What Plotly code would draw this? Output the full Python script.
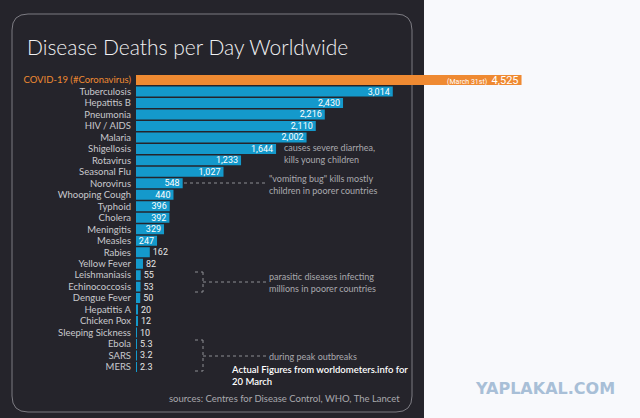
import plotly.graph_objects as go

W, H = 640, 418

diseases = [
    "COVID-19 (#Coronavirus)", "Tuberculosis", "Hepatitis B", "Pneumonia", "HIV / AIDS",
    "Malaria", "Shigellosis", "Rotavirus", "Seasonal Flu", "Norovirus", "Whooping Cough",
    "Typhoid", "Cholera", "Meningitis", "Measles", "Rabies", "Yellow Fever", "Leishmaniasis",
    "Echinococcosis", "Dengue Fever", "Hepatitis A", "Chicken Pox", "Sleeping Sickness",
    "Ebola", "SARS", "MERS",
]
deaths = [4525, 3014, 2430, 2216, 2110, 2002, 1644, 1233, 1027, 548, 440, 396, 392, 329,
          247, 162, 82, 55, 53, 50, 20, 12, 10, 5.3, 3.2, 2.3]

title = "Disease Deaths per Day Worldwide"
covid_note = "(March 31st)"
notes = {
    "Shigellosis": "causes severe diarrhea,<br>kills young children",
    "Norovirus": "\"vomiting bug\" kills mostly<br>children in poorer countries",
    "parasitic": "parasitic diseases infecting<br>millions in poorer countries",
    "outbreaks": "during peak outbreaks",
}
figures_note = "Actual Figures from worldometers.info for<br>20 March"
sources = "sources: Centres for Disease Control, WHO, The Lancet"
watermark = "YAPLAKAL.COM"

ORANGE = "#ef8a32"
BLUE = "#1499cb"
DARK = "#25242b"
GREY = "#a9a9ae"


def px(x):
    return x / W


def py(y):
    return 1 - y / H


# bar text: big bars get the number inside, small ones outside
texts, positions, tcolors = [], [], []
for name, v in zip(diseases, deaths):
    s = f"{v:,.0f}" if v >= 10 else f"{v}"
    if name.startswith("COVID"):
        s = f"<span style='font-size:7px'>{covid_note}</span>  <span style='font-size:11px'>{s}</span>"
    texts.append(s)
    positions.append("inside" if v >= 200 else "outside")
    tcolors.append("#ffffff" if v >= 200 else "#e6e6e6")

colors = [ORANGE if d.startswith("COVID") else BLUE for d in diseases]
ticktext = [f"<span style='color:{ORANGE}'>{d}</span>" if d.startswith("COVID") else d for d in diseases]

fig = go.Figure()
fig.add_trace(go.Bar(
    x=deaths, y=diseases, orientation="h",
    marker=dict(color=colors, line=dict(width=0)),
    text=texts, textposition=positions, insidetextanchor="end",
    textfont=dict(family="Liberation Sans Narrow, Roboto", size=9, color=tcolors),
    cliponaxis=False, hoverinfo="skip",
))

# dark card behind the chart + rounded outline
shapes = [dict(type="rect", xref="paper", yref="paper", x0=0, x1=px(424), y0=0, y1=1,
               fillcolor=DARK, line=dict(width=0), layer="below")]
x0, x1, y0, y1 = px(12), px(412), py(412), py(14)
rx, ry = 16 / W, 16 / H
path = (f"M {x0+rx},{y1} L {x1-rx},{y1} Q {x1},{y1} {x1},{y1-ry} L {x1},{y0+ry} "
        f"Q {x1},{y0} {x1-rx},{y0} L {x0+rx},{y0} Q {x0},{y0} {x0},{y0+ry} "
        f"L {x0},{y1-ry} Q {x0},{y1} {x0+rx},{y1} Z")
shapes.append(dict(type="path", xref="paper", yref="paper", path=path,
                   line=dict(color="#7c7b82", width=1), layer="below"))


def dot(xa, ya, xb, yb):
    shapes.append(dict(type="line", xref="paper", yref="paper", x0=px(xa), y0=py(ya),
                       x1=px(xb), y1=py(yb), line=dict(color="#8e8e94", width=1, dash="dot")))


dot(184, 183, 267, 183)
# parasitic bracket
dot(195, 272, 203, 272)
dot(195, 292, 203, 292)
dot(203, 272, 203, 292)
dot(203, 282, 267, 282)
# outbreak bracket
dot(195, 340, 203, 340)
dot(195, 371, 203, 371)
dot(203, 340, 203, 371)
dot(203, 356, 267, 356)

ann = []


def note(x, y, txt, size=9, color=GREY, family="Lato", xanchor="left", yanchor="middle"):
    ann.append(dict(x=px(x), y=py(y), xref="paper", yref="paper", text=txt, showarrow=False,
                    xanchor=xanchor, yanchor=yanchor, align="left",
                    font=dict(family=family, size=size, color=color)))


note(25, 47, title, size=21, color="#f1f1f3", family="Lato Light, Lato")
note(282, 153, notes["Shigellosis"])
note(267, 185, notes["Norovirus"])
note(267, 282, notes["parasitic"])
note(267, 356, notes["outbreaks"])
note(229, 375, figures_note, size=9.5, color="#ffffff", family="Lato Semibold, Lato")
note(402, 398, sources, size=9.5, xanchor="right")
note(545, 388, f"<b>{watermark}</b>", size=16, color="#a8bfd7", family="DejaVu Sans", xanchor="center")

fig.update_layout(
    width=W, height=H,
    margin=dict(l=0, r=0, t=0, b=0),
    paper_bgcolor="#f8f9fc", plot_bgcolor="rgba(0,0,0,0)",
    showlegend=False, bargap=0.13,
    shapes=shapes, annotations=ann,
    uniformtext=dict(minsize=9, mode="show"),
    xaxis=dict(domain=[px(136), 1], range=[0, 504 / 0.0852], visible=False, fixedrange=True),
    yaxis=dict(domain=[py(372.7), py(74.3)], autorange="reversed", tickmode="array",
               tickvals=diseases, ticktext=ticktext, showgrid=False, zeroline=False,
               showline=False, ticks="", automargin=False, ticklabelstandoff=4,
               fixedrange=True, tickfont=dict(family="Lato", size=9.5, color="#c9c9cd")),
)

# drop the browser's default 8px body margin so the figure sits at the page corner
fig.write_html("out.html", config={"displayModeBar": False},
               post_script="document.body.style.margin='0px';")
